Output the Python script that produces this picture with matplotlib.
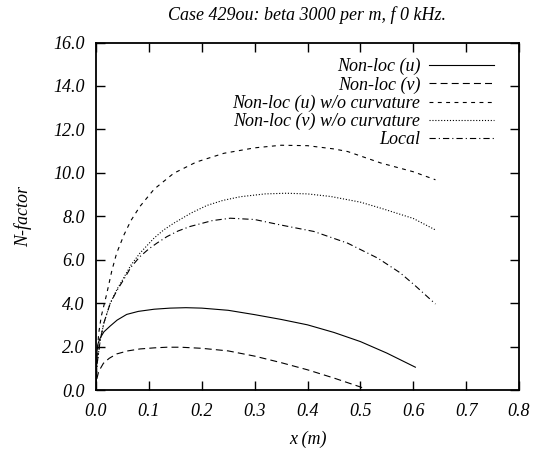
import matplotlib
matplotlib.use("Agg")
import matplotlib.pyplot as plt
from matplotlib.ticker import FormatStrFormatter, MultipleLocator

plt.rcParams['font.family'] = ['Liberation Serif', 'DejaVu Serif']
plt.rcParams['font.style'] = 'italic'
plt.rcParams['lines.scale_dashes'] = False

# Non-loc (u)
x_u = [0, 0.001, 0.002, 0.004, 0.008, 0.015, 0.027, 0.04, 0.058, 0.08, 0.11, 0.14,
       0.17, 0.2, 0.25, 0.3, 0.35, 0.4, 0.45, 0.5, 0.55, 0.604]
n_u = [0, 1.0, 1.8, 2.15, 2.4, 2.68, 2.95, 3.22, 3.48, 3.62, 3.72, 3.77,
       3.79, 3.77, 3.67, 3.47, 3.25, 3.0, 2.65, 2.23, 1.7, 1.05]

# Non-loc (v)
x_v = [0, 0.001, 0.005, 0.014, 0.025, 0.039, 0.06, 0.083, 0.11, 0.134, 0.16, 0.2,
       0.25, 0.3, 0.35, 0.4, 0.45, 0.5, 0.51]
n_v = [0, 0.46, 0.85, 1.23, 1.46, 1.66, 1.8, 1.89, 1.94, 1.97, 1.97, 1.92,
       1.8, 1.56, 1.26, 0.93, 0.55, 0.14, 0.05]

# Non-loc (u) w/o curvature
x_uc = [0, 0.001, 0.005, 0.01, 0.02, 0.03, 0.039, 0.053, 0.066, 0.083, 0.11, 0.147, 0.19,
        0.242, 0.3, 0.35, 0.4, 0.45, 0.476, 0.539, 0.6, 0.642]
n_uc = [0, 1.24, 2.6, 3.4, 4.4, 5.5, 6.3, 7.15, 7.8, 8.45, 9.25, 9.98, 10.5,
        10.9, 11.15, 11.27, 11.25, 11.1, 10.98, 10.45, 10.05, 9.68]

# Non-loc (v) w/o curvature
x_vc = [0, 0.002, 0.008, 0.015, 0.027, 0.04, 0.052, 0.066, 0.083, 0.11, 0.128, 0.147, 0.18,
        0.21, 0.24, 0.273, 0.32, 0.36, 0.4, 0.444, 0.5, 0.539, 0.6, 0.642]
n_vc = [0, 1.2, 2.3, 3.1, 4.0, 4.65, 5.15, 5.75, 6.3, 7.0, 7.37, 7.68, 8.15,
        8.5, 8.73, 8.9, 9.03, 9.06, 9.03, 8.91, 8.65, 8.37, 7.9, 7.37]

# Local
x_loc = [0, 0.002, 0.008, 0.015, 0.027, 0.04, 0.052, 0.066, 0.083, 0.1, 0.115, 0.134, 0.155,
         0.178, 0.22, 0.254, 0.3, 0.349, 0.412, 0.476, 0.533, 0.575, 0.602, 0.642]
n_loc = [0, 1.2, 2.3, 3.1, 4.0, 4.6, 5.07, 5.65, 6.14, 6.5, 6.76, 7.06, 7.32,
         7.53, 7.8, 7.91, 7.85, 7.6, 7.3, 6.76, 6.07, 5.4, 4.84, 3.96]

labels = ["Non-loc (u)", "Non-loc (v)", "Non-loc (u) w/o curvature",
          "Non-loc (v) w/o curvature", "Local"]

fig = plt.figure(figsize=(5.34, 4.49), dpi=100)
ax = fig.add_axes([0.1798, 0.1314, 0.7921, 0.7739])

lw = 0.8
ax.plot(x_u, n_u, color='black', lw=lw, linestyle='-', label=labels[0])
ax.plot(x_v, n_v, color='black', lw=lw, linestyle=(0, (5, 3)), label=labels[1])
ax.plot(x_uc, n_uc, color='black', lw=lw, linestyle=(0, (2.8, 3.2)), label=labels[2])
ax.plot(x_vc, n_vc, color='black', lw=lw, linestyle=(0, (0.8, 1.3)), label=labels[3])
ax.plot(x_loc, n_loc, color='black', lw=lw, linestyle=(0, (4.5, 2.2, 0.8, 2.2)), label=labels[4])

ax.set_xlim(0, 0.8)
ax.set_ylim(0, 16)
ax.xaxis.set_major_locator(MultipleLocator(0.1))
ax.yaxis.set_major_locator(MultipleLocator(2.0))
ax.xaxis.set_major_formatter(FormatStrFormatter('%.1f'))
ax.yaxis.set_major_formatter(FormatStrFormatter('%.1f'))
ax.tick_params(direction='in', length=6.5, width=1.0, top=True, right=True,
               labelsize=13)
ax.tick_params(axis='x', pad=9)
ax.tick_params(axis='y', pad=8)
for s in ax.spines.values():
    s.set_linewidth(1.3)

ax.set_xlabel("x (m)", fontsize=13, labelpad=8)
ax.set_ylabel("N-factor", fontsize=13, labelpad=15)
fig.text(0.575, 0.966, "Case 429ou: beta 3000 per m, f 0 kHz.", fontsize=13,
         ha='center', va='center')

leg = ax.legend(loc='upper right', bbox_to_anchor=(0.94, 0.955), frameon=False,
                markerfirst=False, fontsize=13, handlelength=3.6,
                handletextpad=0.45, labelspacing=0.05, borderpad=0, borderaxespad=0)

fig.savefig("out.png", dpi=100)
